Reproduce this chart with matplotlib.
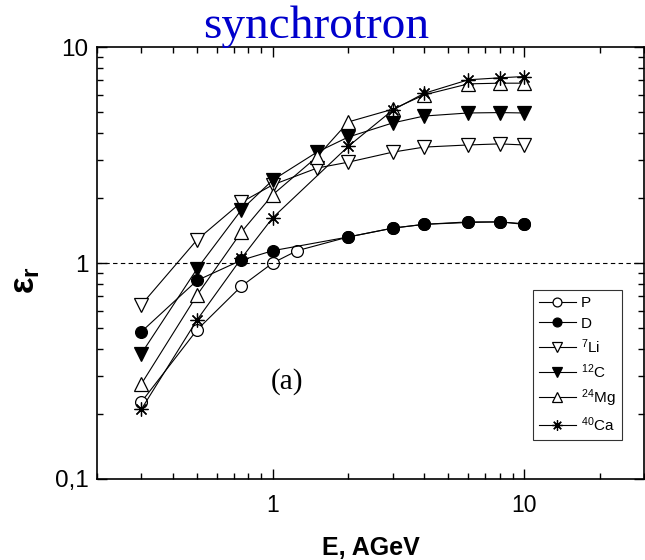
import matplotlib
matplotlib.use("Agg")
import matplotlib.pyplot as plt
from matplotlib.ticker import LogLocator, FixedLocator, FixedFormatter, NullFormatter

# ---- data ----
E_P = [0.3, 0.5, 0.75, 1.0, 1.25, 2, 3, 4, 6, 8, 10]
eps_P = [0.227, 0.49, 0.78, 1.0, 1.14, 1.32, 1.45, 1.51, 1.54, 1.55, 1.52]

E_D = [0.3, 0.5, 0.75, 1.0, 2, 3, 4, 6, 8, 10]
eps_D = [0.48, 0.83, 1.03, 1.14, 1.32, 1.45, 1.51, 1.55, 1.55, 1.51]

E_Li = [0.3, 0.5, 0.75, 1.0, 1.5, 2, 3, 4, 6, 8, 10]
eps_Li = [0.64, 1.28, 1.91, 2.3, 2.75, 2.93, 3.26, 3.44, 3.52, 3.56, 3.52]

E_C = [0.3, 0.5, 0.75, 1.0, 1.5, 2, 3, 4, 6, 8, 10]
eps_C = [0.38, 0.94, 1.76, 2.42, 3.26, 3.83, 4.45, 4.79, 4.95, 4.97, 4.95]

E_Mg = [0.3, 0.5, 0.75, 1.0, 1.5, 2, 3, 4, 6, 8, 10]
eps_Mg = [0.275, 0.71, 1.39, 2.07, 3.1, 4.5, 5.15, 6.0, 6.75, 6.8, 6.8]

E_Ca = [0.3, 0.5, 0.75, 1.0, 2, 3, 4, 6, 8, 10]
eps_Ca = [0.21, 0.545, 1.05, 1.62, 3.47, 5.1, 6.1, 7.05, 7.2, 7.3]

labels = ["P", "D", r"$^{7}$Li", r"$^{12}$C", r"$^{24}$Mg", r"$^{40}$Ca"]
xticks = [1, 10]
xticklabels = ["1", "10"]
yticks = [0.1, 1, 10]
yticklabels = ["0,1", "1", "10"]

plt.rcParams['font.family'] = ['Liberation Sans', 'DejaVu Sans']
plt.rcParams['mathtext.default'] = 'regular'

fig = plt.figure(figsize=(6.45, 5.6), dpi=100)
ax = fig.add_axes([97/645, 1 - 479/560, (644 - 97)/645, (479 - 47)/560])

series = [
    (E_P, eps_P, dict(marker='o', mfc='white', mec='black', ms=8.5)),
    (E_D, eps_D, dict(marker='o', mfc='black', mec='black', ms=8.5)),
    (E_Li, eps_Li, dict(marker='v', mfc='white', mec='black', ms=9.5)),
    (E_C, eps_C, dict(marker='v', mfc='black', mec='black', ms=9.5)),
    (E_Mg, eps_Mg, dict(marker='^', mfc='white', mec='black', ms=9.5)),
    (E_Ca, eps_Ca, dict(marker=(8, 2, 0), mfc='black', mec='black', ms=10)),
]
for (x, y, st), lab in zip(series, labels):
    ax.plot(x, y, color='black', lw=0.8, mew=0.9, label=lab, **st)

ax.axhline(1.0, color='black', lw=0.8, ls=(0, (4, 3)))

ax.set_xscale('log')
ax.set_yscale('log')
ax.set_xlim(0.2, 30)
ax.set_ylim(0.1, 10)

ax.xaxis.set_major_locator(FixedLocator(xticks))
ax.xaxis.set_major_formatter(FixedFormatter(xticklabels))
ax.xaxis.set_minor_locator(LogLocator(base=10, subs=range(2, 10)))
ax.xaxis.set_minor_formatter(NullFormatter())
ax.yaxis.set_major_locator(FixedLocator(yticks))
ax.yaxis.set_major_formatter(FixedFormatter(yticklabels))
ax.yaxis.set_minor_locator(LogLocator(base=10, subs=range(2, 10)))
ax.yaxis.set_minor_formatter(NullFormatter())

ax.tick_params(which='both', direction='in', top=True, right=True, width=1)
ax.tick_params(which='major', length=7)
ax.tick_params(axis='x', which='major', pad=11, labelsize=16.5)
ax.tick_params(axis='y', which='major', pad=6, labelsize=17.5)
ax.tick_params(which='minor', length=4)
for s in ax.spines.values():
    s.set_linewidth(1.2)

ax.set_xlabel("E, AGeV", fontsize=18, fontweight='bold', va='top')
ax.xaxis.set_label_coords(0.501, -0.132)
ax.set_ylabel(r"ε$_r$", fontsize=25, fontweight='bold')
ax.yaxis.set_label_coords(-0.10, 0.46)

ax.text(0.318, 0.21, "(a)", transform=ax.transAxes, fontsize=21,
        family='Liberation Serif')

fig.text(316/645, 1 - 38/560, "synchrotron", fontsize=34, color='#0000cc',
         family='Liberation Serif', ha='center', va='baseline')

leg = ax.legend(loc='upper left', bbox_to_anchor=((533 - 97)/547, 1 - (290 - 47)/432),
                borderaxespad=0,
                frameon=True, fancybox=False, edgecolor='black', fontsize=11,
                markerscale=0.75, handlelength=2.4, labelspacing=0.42,
                borderpad=0.4, handletextpad=0.35)
leg.get_frame().set_linewidth(0.8)

fig.savefig("out.png", dpi=100)
